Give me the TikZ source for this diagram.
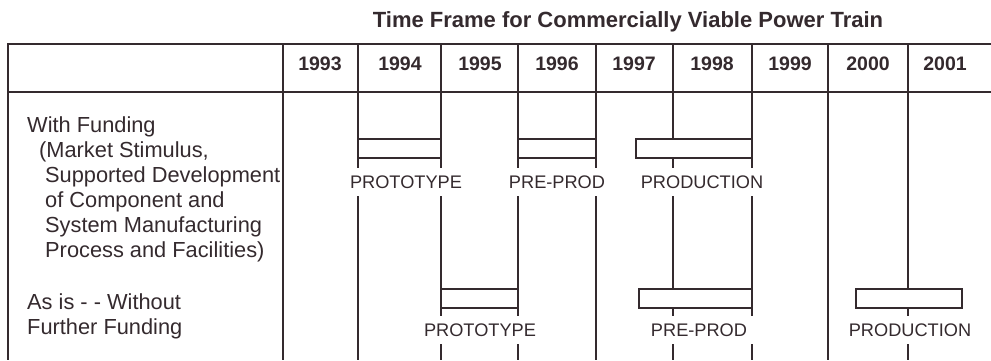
\documentclass[tikz,border=0pt]{standalone}
\usepackage{fontspec}
\setmainfont{Liberation Sans}
\usepackage{xcolor}
\definecolor{ink}{RGB}{52,42,46}
\tikzset{
  grid/.style={ink, line width=1.5pt},
  phase/.style={draw=ink, line width=2pt, fill=white},
  phaselabel/.style={fill=white, text=ink, inner xsep=7pt, inner ysep=8pt, font=\fontsize{18.2}{20}\selectfont},
  year/.style={text=ink, anchor=base, font=\fontsize{19.5}{22}\selectfont\bfseries},
  rowtext/.style={text=ink, align=left, inner sep=0pt, anchor=north west, font=\fontsize{21.8}{25}\selectfont}
}
\begin{document}
\begin{tikzpicture}[x=1pt,y=-1pt]
\useasboundingbox (0,0) rectangle (991,360);
% Title
\node[text=ink, anchor=base, font=\fontsize{22}{24}\selectfont\bfseries] (title) at (628,27) {Time Frame for Commercially Viable Power Train};
% Table frame
\draw[grid] (991,44) -- (8,44) -- (8,360);
\draw[grid] (8,92) -- (991,92);
% Column lines
\foreach \x in {283,358,441,518,596,673,752,828,908} {\draw[grid] (\x,44) -- (\x,360);}
% Years
\foreach \yr/\x in {1993/320,1994/400,1995/480,1996/557,1997/634,1998/712,1999/790,2000/868,2001/945}
  {\node[year] (y\yr) at (\x,70) {\yr};}
% Row headings
\node[rowtext] (fundtxt) at (27,116.5) {With Funding\\
  \hspace*{12pt}(Market Stimulus,\\
  \hspace*{18pt}Supported Development\\
  \hspace*{18pt}of Component and\\
  \hspace*{18pt}System Manufacturing\\
  \hspace*{18pt}Process and Facilities)};
\node[rowtext] (asistxt) at (27,293.5) {As is - - Without\\Further Funding};
% Bars, with funding
\draw[phase] (358,139) rectangle (441,158);
\draw[phase] (518,139) rectangle (596,158);
\draw[phase] (636,139) rectangle (752,158);
% Bars, as is
\draw[phase] (441,289) rectangle (518,308);
\draw[phase] (639,289) rectangle (752,308);
\draw[phase] (856,289) rectangle (962,308);
% Phase labels
\node[phaselabel] (fproto) at (406,182) {PROTOTYPE};
\node[phaselabel] (fpre) at (557,182) {PRE-PROD};
\node[phaselabel] (fprod) at (702,182) {PRODUCTION};
\node[phaselabel] (aproto) at (480,330) {PROTOTYPE};
\node[phaselabel] (apre) at (699,330) {PRE-PROD};
\node[phaselabel] (aprod) at (910,330) {PRODUCTION};
\end{tikzpicture}
\end{document}
